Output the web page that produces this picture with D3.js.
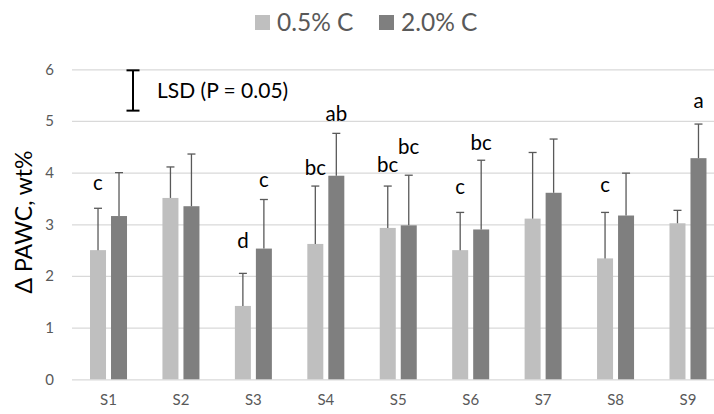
<!DOCTYPE html>
<html><head><meta charset="utf-8">
<script src="https://cdn.jsdelivr.net/npm/d3@7"></script>
<style>
html,body{margin:0;padding:0;background:#fff;}
svg{display:block;}
text{font-family:Lato,"Open Sans",sans-serif;}
</style></head>
<body>
<script>
const categories = ["S1","S2","S3","S4","S5","S6","S7","S8","S9"];
const seriesNames = ["0.5% C","2.0% C"];
const low  = [2.50,3.51,1.42,2.62,2.93,2.50,3.11,2.34,3.02];
const high = [3.16,3.35,2.53,3.94,2.98,2.90,3.61,3.17,4.28];
const lowErr  = [0.81,0.60,0.63,1.12,0.81,0.73,1.28,0.89,0.25];
const highErr = [0.84,1.01,0.95,0.82,0.97,1.34,1.04,0.82,0.66];
const yTicks = [0,1,2,3,4,5,6];
// significance letters: category, series index, text, baseline position in data units
const letterCat = ["S1","S3","S3","S4","S4","S5","S5","S6","S6","S8","S9"];
const letterSer = [0,0,1,0,1,0,1,0,1,0,1];
const letterTxt = ["c","d","c","bc","ab","bc","bc","c","bc","c","a"];
const letterY   = [3.66,2.54,3.72,3.95,5.0,4.02,4.36,3.58,4.44,3.63,5.25];
const lsdTop = 5.98, lsdBottom = 5.20;
const lsdLabel = "LSD (P = 0.05)";
const yTitle = "Δ PAWC, wt%";

const W = 714, H = 414;
const colors = ["#BFBFBF","#7F7F7F"];
const svg = d3.select("body").append("svg").attr("width",W).attr("height",H);

const x0 = d3.scaleBand().domain(categories).range([72.3,724.2]).padding(0);
const x1 = d3.scaleBand().domain([0,1]).range([-18.5,18.5]).paddingInner(0.238);
const y = d3.scaleLinear().domain([0,6]).range([379.3,69.3]);

// gridlines + y tick labels
const yAxis = d3.axisLeft(y).tickValues(yTicks).tickSize(-(714-72)).tickFormat(d3.format("d"));
const gy = svg.append("g").attr("transform","translate(72,0)").call(yAxis);
gy.select(".domain").remove();
gy.selectAll(".tick line").attr("stroke","#D9D9D9").attr("stroke-width",1.3);
gy.selectAll(".tick text").attr("fill","#595959").attr("font-size",15).attr("x",-18).attr("text-anchor","end");

// x axis labels
const xAxis = d3.axisBottom(x0).tickSize(0).tickPadding(16);
const gx = svg.append("g").attr("transform","translate(0,379.3)").call(xAxis);
gx.select(".domain").remove();
gx.selectAll(".tick text").attr("fill","#595959").attr("font-size",15).attr("dy","0.68em");

const data = categories.map((c,i)=>({c, vals:[low[i],high[i]], errs:[lowErr[i],highErr[i]]}));
const groups = svg.append("g").selectAll("g").data(data).join("g")
  .attr("transform",d=>`translate(${x0(d.c)+x0.bandwidth()/2},0)`);

groups.selectAll("rect").data(d=>d.vals.map((v,k)=>({v,k}))).join("rect")
  .attr("x",d=>x1(d.k)).attr("width",x1.bandwidth())
  .attr("y",d=>y(d.v)).attr("height",d=>y(0)-y(d.v))
  .attr("fill",d=>colors[d.k]);

const eb = groups.selectAll("g.err").data(d=>d.vals.map((v,k)=>({v,k,e:d.errs[k]}))).join("g").attr("class","err")
  .attr("stroke","#595959").attr("stroke-width",1.3);
eb.append("line").attr("x1",d=>x1(d.k)+x1.bandwidth()/2).attr("x2",d=>x1(d.k)+x1.bandwidth()/2)
  .attr("y1",d=>y(d.v)).attr("y2",d=>y(d.v+d.e));
eb.append("line").attr("x1",d=>x1(d.k)+x1.bandwidth()/2-4).attr("x2",d=>x1(d.k)+x1.bandwidth()/2+4)
  .attr("y1",d=>y(d.v+d.e)).attr("y2",d=>y(d.v+d.e));

// letters
svg.append("g").selectAll("text").data(letterTxt).join("text")
  .attr("x",(t,i)=>x0(letterCat[i])+x0.bandwidth()/2+x1(letterSer[i])+x1.bandwidth()/2)
  .attr("y",(t,i)=>y(letterY[i]))
  .attr("text-anchor","middle").attr("font-size",20.5).attr("fill","#000").text(t=>t);

// LSD bar
const lsdX = 133;
const lg = svg.append("g").attr("stroke","#000").attr("stroke-width",2);
lg.append("line").attr("x1",lsdX).attr("x2",lsdX).attr("y1",y(lsdTop)).attr("y2",y(lsdBottom));
lg.append("line").attr("x1",lsdX-6.5).attr("x2",lsdX+6.5).attr("y1",y(lsdTop)).attr("y2",y(lsdTop));
lg.append("line").attr("x1",lsdX-6.5).attr("x2",lsdX+6.5).attr("y1",y(lsdBottom)).attr("y2",y(lsdBottom));
svg.append("text").attr("x",157).attr("y",y((lsdTop+lsdBottom)/2)).attr("dy","0.35em")
  .attr("font-size",21).attr("fill","#000").text(lsdLabel);

// y title
svg.append("text").attr("transform","translate(24,222) rotate(-90)")
  .attr("text-anchor","middle").attr("dy","0.35em").attr("font-size",23).attr("fill","#000").text(yTitle);

// legend
const legX = [255,379];
const leg = svg.append("g").selectAll("g").data(seriesNames).join("g")
  .attr("transform",(d,i)=>`translate(${legX[i]},15)`);
leg.append("rect").attr("width",15).attr("height",15).attr("fill",(d,i)=>colors[i]);
leg.append("text").attr("x",22).attr("y",7.5).attr("dy","0.36em").attr("font-size",24.5).attr("fill","#595959").text(d=>d);
</script>
</body></html>
